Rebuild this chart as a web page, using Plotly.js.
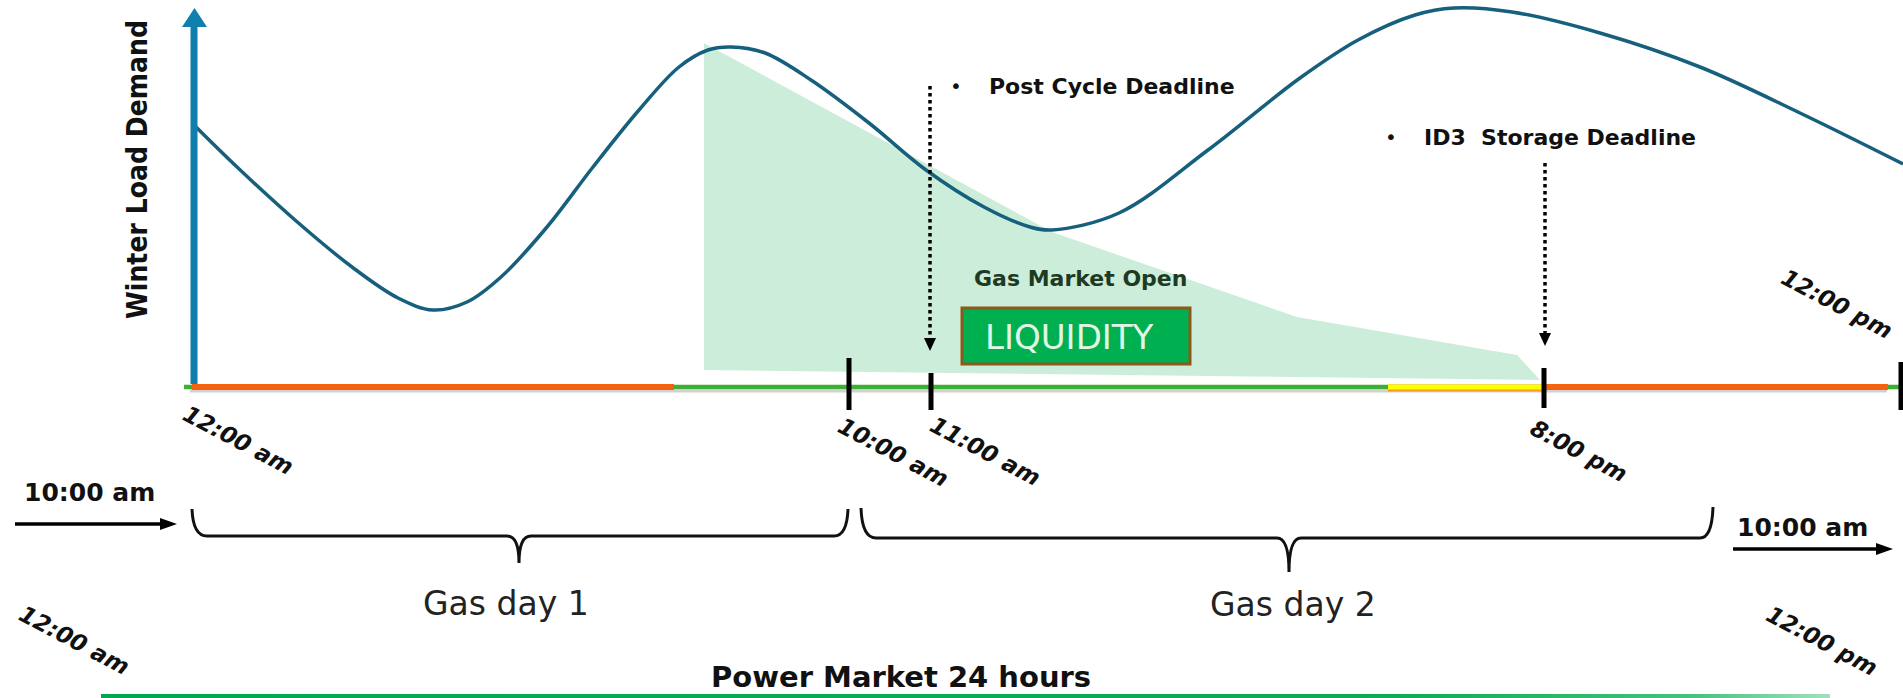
<!DOCTYPE html>
<html>
<head>
<meta charset="utf-8">
<script src="https://cdn.plot.ly/plotly-3.0.1.min.js"></script>
<style>
html,body{margin:0;padding:0;background:#fff;overflow:hidden;}
#chart{width:1903px;height:698px;}
</style>
</head>
<body>
<div id="chart"></div>
<script>
// ---- Data (diagram units: x across the timeline, y = vertical position, 0 at top) ----
const demandX = [194,237,295,352,398,433,467,501,547,593,639,679,708,731,765,811,869,926,984,1030,1052,1119,1208,1300,1358,1415,1454,1512,1600,1700,1800,1903];
const demandY = [125,167,220,267,298,310,302,277,227,167,110,67,50,47,53,80,123,170,207,227,230,213,150,78,40,15,8,12,33,67,113,164];

const liquidityX = [704,1052,1297,1517,1540,704];
const liquidityY = [43,232,317,355,380,370];

const timeLabels = ['12:00 am','10:00 am','11:00 am','8:00 pm','12:00 pm','12:00 am','12:00 pm'];
const gasDays = ['Gas day 1','Gas day 2'];
const deadlines = ['Post Cycle Deadline','ID3\u00a0 Storage Deadline'];

const BOLD = 'DejaVu Sans, Arial, sans-serif';

const traces = [
  {x: liquidityX, y: liquidityY, type:'scatter', mode:'lines', fill:'toself',
   fillcolor:'#cdeddb', line:{width:0, color:'#cdeddb'}, hoverinfo:'skip', showlegend:false},
  {x: demandX, y: demandY, type:'scatter', mode:'lines',
   line:{color:'#16607e', width:3.5, shape:'spline', smoothing:1}, hoverinfo:'skip', showlegend:false},
  // power market 24 hours bar
  {x:[101,1830,1830,101,101], y:[694,694,698.5,698.5,694], type:'scatter', mode:'lines', fill:'toself',
   line:{width:0,color:'#00a94f'},
   fillgradient:{type:'horizontal', colorscale:[[0,'#00a94f'],[0.75,'#0aac55'],[0.92,'#45c27c'],[1,'#a2e0bd']]},
   hoverinfo:'skip', showlegend:false}
];

function line(x0,y0,x1,y1,color,width,dash){
  return {type:'line',xref:'x',yref:'y',x0,y0,x1,y1,line:{color,width,dash:dash||'solid'},layer:'above'};
}
function path(d,fill,lc,lw){
  return {type:'path',xref:'x',yref:'y',path:d,fillcolor:fill,line:{color:lc||fill,width:lw===undefined?0:lw},layer:'above'};
}

const shapes = [
  // timeline shadow
  line(190,391,1887,391,'rgba(0,0,0,0.18)',3),
  // green timeline
  line(184,387,1903,387,'#3cb034',4.5),
  // orange / yellow / orange segments
  line(192,387,674,387,'#f5620f',6),
  line(1388,388,1542,388,'#f0a020',7),
  line(1388,387,1542,387,'#ffff00',5),
  line(1542,387,1888,387,'#f5620f',6),
  // y-axis arrow
  line(194,384,194,24,'#0f7fae',7),
  path('M 182 27 L 194.5 8 L 207 27 Z','#0f7fae'),
  // black ticks
  line(849,358,849,410,'#000',5),
  line(931,373,931,410,'#000',5),
  line(1544,368,1544,408,'#000',5),
  line(1901,362,1901,410,'#000',5),
  // dotted deadline arrows
  line(930,86,930,338,'#000',3.5,'dot'),
  path('M 924 338 L 936 338 L 930 351 Z','#000'),
  line(1545,163,1545,333,'#000',3.5,'dot'),
  path('M 1539 333 L 1551 333 L 1545 346 Z','#000'),
  // LIQUIDITY box
  {type:'rect',xref:'x',yref:'y',x0:962,y0:308,x1:1190,y1:364,fillcolor:'#00b050',line:{color:'#8b5a1a',width:3},layer:'above'},
  // left horizontal arrow
  line(15,524,163,524,'#000',3.5),
  path('M 160 518 L 177 524 L 160 530 Z','#000'),
  // right horizontal arrow
  line(1733,549,1879,549,'#000',3.5),
  path('M 1876 543 L 1893 549 L 1876 555 Z','#000'),
  // braces
  path('M 192 509 Q 193 536 207 536 L 507 536 Q 519 536 519 563 Q 519 536 531 536 L 834 536 Q 847 536 848 509','rgba(0,0,0,0)','#111',3),
  path('M 861 508 Q 862 538 876 538 L 1277 538 Q 1289 538 1289 572 Q 1289 538 1301 538 L 1700 538 Q 1712 538 1713 507','rgba(0,0,0,0)','#111',3)
];

function ann(x,y,text,opts){
  return Object.assign({xref:'x',yref:'y',x,y,text,showarrow:false,xanchor:'center',yanchor:'middle'},opts||{});
}
const tfont = {family:BOLD,size:23,color:'#111'};
const annotations = [
  ann(137,170,'<b>Winter Load Demand</b>',{textangle:-90,font:{family:'Liberation Sans Narrow, DejaVu Sans Condensed, Arial Narrow, sans-serif',size:28,color:'#111'}}),
  ann(956,86,'•',{font:{family:BOLD,size:20,color:'#111'}}),
  ann(987,86,'<b>'+deadlines[0]+'</b>',{xanchor:'left',font:{family:BOLD,size:22,color:'#111'}}),
  ann(1391,137,'•',{font:{family:BOLD,size:20,color:'#111'}}),
  ann(1422,137,'<b>'+deadlines[1]+'</b>',{xanchor:'left',font:{family:BOLD,size:22,color:'#111'}}),
  ann(1080,278,'<b>Gas Market Open</b>',{font:{family:BOLD,size:22,color:'#1e3a22'}}),
  ann(1069,337,'LIQUIDITY',{font:{family:BOLD,size:34,color:'#e2f5e6'}}),
  ann(238,440,'<b><i>'+timeLabels[0]+'</i></b>',{textangle:28,font:tfont}),
  ann(893,452,'<b><i>'+timeLabels[1]+'</i></b>',{textangle:28,font:tfont}),
  ann(985,451,'<b><i>'+timeLabels[2]+'</i></b>',{textangle:28,font:tfont}),
  ann(1579,451,'<b><i>'+timeLabels[3]+'</i></b>',{textangle:28,font:tfont}),
  ann(1837,304,'<b><i>'+timeLabels[4]+'</i></b>',{textangle:28,font:tfont}),
  ann(74,640,'<b><i>'+timeLabels[5]+'</i></b>',{textangle:28,font:tfont}),
  ann(1822,641,'<b><i>'+timeLabels[6]+'</i></b>',{textangle:28,font:tfont}),
  ann(89,492,'<b>10:00 am</b>',{font:{family:BOLD,size:25,color:'#111'}}),
  ann(1802,527,'<b>10:00 am</b>',{font:{family:BOLD,size:25,color:'#111'}}),
  ann(506,603,gasDays[0],{font:{family:BOLD,size:33,color:'#222'}}),
  ann(1293,604,gasDays[1],{font:{family:BOLD,size:33,color:'#222'}}),
  ann(901,677,'<b>Power Market 24 hours</b>',{font:{family:BOLD,size:29,color:'#111'}})
];

const layout = {
  width:1903, height:698,
  margin:{l:0,r:0,t:0,b:0,pad:0},
  paper_bgcolor:'#ffffff', plot_bgcolor:'#ffffff',
  xaxis:{range:[0,1903],visible:false,fixedrange:true},
  yaxis:{range:[698,0],visible:false,fixedrange:true},
  shapes, annotations, showlegend:false
};
Plotly.newPlot('chart', traces, layout, {displayModeBar:false, staticPlot:true});
</script>
</body>
</html>
